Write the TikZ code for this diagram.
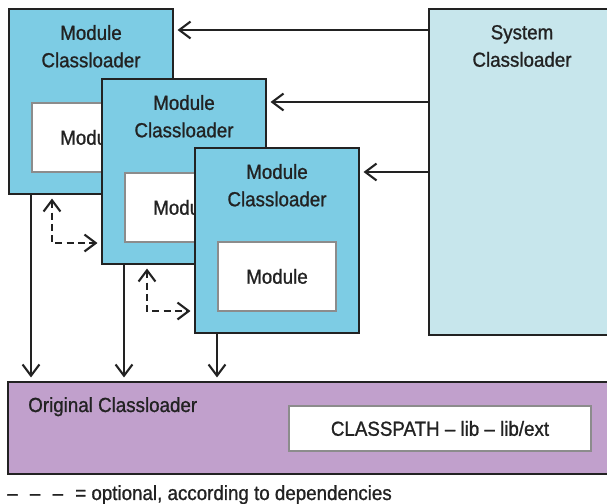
\documentclass[tikz,border=0pt]{standalone}
\usepackage{fontspec}
\setmainfont{Liberation Sans}[FakeStretch=0.92,FakeBold=1]
\usetikzlibrary{
  arrows.meta,
  positioning,  % Function "of" (e.g. [below=of x])
  calc,         % Calculations $...$
}
\definecolor{modblue}{HTML}{7DCCE4}
\definecolor{sysblue}{HTML}{C7E6EC}
\definecolor{origpurple}{HTML}{C1A0CC}
\definecolor{ink}{HTML}{222222}
\def\mywidth{4.1cm}
\def\myheight{4.625cm}
\def\mytitledist{0.42cm}
\newcommand{\dashgap}{\hspace{0.6em}}
\tikzset{
  font=\fontsize{14.5}{19.5}\selectfont,
  text=ink,
  >={Straight Barb[length=8pt,width=12pt]},
  my box/.style={
    draw=ink,
    line width=1.4pt,
    rectangle,
    anchor=north west,
    inner sep=0mm
  },
  my module cl/.style={
    my box,
    fill=modblue,
    minimum width=\mywidth,
    minimum height=\myheight
  },
  my module/.style={
    my box,
    draw=black!45,
    fill=white,
    minimum width=2.95cm,
    minimum height=1.72cm
  },
  my title/.style={
    inner sep=0mm,
    align=center
  },
  link/.style={
    ->,
    draw=ink,
    line width=1.5pt,
    shorten >=2.5pt
  },
  % optional dependency between two module classloaders
  optdep/.style={
    <->,
    draw=ink,
    line width=1.5pt,
    dash pattern=on 5pt off 3pt,
    shorten >=2.5pt,
    shorten <=2.5pt
  }
}

\begin{document}
\begin{tikzpicture}[x=0.025cm,y=-0.025cm]
\useasboundingbox (0,0) rectangle (607,504);
% system classloader, cut by the right edge
\node[my box,fill=sysblue,minimum width=4.65cm,minimum height=8.15cm] (scl) at (428,8) {};
\node[my title,below=\mytitledist of scl.north] (sclt) {System\\Classloader};
% module classloaders
\node[my module cl] (mcl1) at (8,8) {};
\node[my title,below=\mytitledist of mcl1.north] (t1) {Module\\Classloader};
\node[my module] (mod1) at ($(mcl1.north west)+(23,94)$) {Module};
\node[my module cl] (mcl2) at ($(mcl1.north west)+(93,70)$) {};
\node[my title,below=\mytitledist of mcl2.north] (t2) {Module\\Classloader};
\node[my module] (mod2) at ($(mcl2.north west)+(23,94)$) {Module};
\node[my module cl] (mcl3) at ($(mcl2.north west)+(93,69)$) {};
\node[my title,below=\mytitledist of mcl3.north] (t3) {Module\\Classloader};
\node[my module] (mod3) at ($(mcl3.north west)+(23,94)$) {Module};
% original classloader
\node[my box,fill=origpurple,minimum width=15.175cm,minimum height=2.3cm] (ocl) at (7,381) {};
\node[my title,anchor=base west] (oclt) at ($(ocl.north west)+(21,31)$) {Original Classloader};
\node[my module,minimum width=7.55cm,minimum height=1.125cm] (cp) at (288,405) {CLASSPATH -- lib -- lib/ext};
% legend
\node[my title,anchor=base west] (legend) at (7,500) {--\dashgap--\dashgap--\dashgap= optional, according to dependencies};

\coordinate (in1) at ($(mcl1.north east)+(0,22)$);
\coordinate (in2) at ($(mcl2.north east)+(0,24)$);
\coordinate (in3) at ($(mcl3.north east)+(0,25)$);
\draw[link] (scl.west |- in1) -- (in1);
\draw[link] (scl.west |- in2) -- (in2);
\draw[link] (scl.west |- in3) -- (in3);
\draw[link] (mod1.west |- mcl1.south) -- (mod1.west |- ocl.north);
\draw[link] (mod2.west |- mcl2.south) -- (mod2.west |- ocl.north);
\draw[link] (mod3.west |- mcl3.south) -- (mod3.west |- ocl.north);

\coordinate (c1) at ($(mcl1.south west)+(44,48)$);
\coordinate (c2) at ($(mcl2.south west)+(46,46)$);
\draw[optdep] (c1 |- mcl1.south) |- (mcl2.west |- c1);
\draw[optdep] (c2 |- mcl2.south) |- (mcl3.west |- c2);
\end{tikzpicture}
\end{document}
